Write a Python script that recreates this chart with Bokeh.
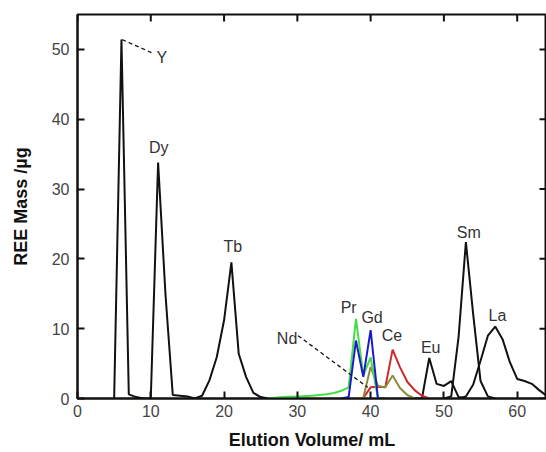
import math
from bokeh.plotting import figure
from bokeh.models import Range1d, FixedTicker, Label
from bokeh.embed import file_html
from bokeh.resources import INLINE

# ---- data ----
y_x = [5, 6, 7, 8, 9, 10]
y_y = [0, 51.4, 0.6, 0.2, 0, 0]
dy_x = [10, 11, 12, 13, 14, 15, 16]
dy_y = [0, 33.8, 15, 0.5, 0.4, 0.3, 0]
tb_x = [16, 17, 18, 19, 20, 21, 22, 23, 24, 25, 26]
tb_y = [0, 0.4, 2.6, 5.9, 11.2, 19.5, 6.4, 3.1, 0.8, 0.2, 0]
pr_x = [26, 28, 30, 32, 34, 35, 36, 37, 38, 39, 40, 41, 42]
pr_y = [0, 0.2, 0.3, 0.4, 0.6, 0.8, 1.1, 1.6, 11.4, 3.3, 5.9, 0, 0]
gd_x = [36, 37, 38, 39, 40, 41, 42]
gd_y = [0, 0.2, 8.3, 3.1, 9.8, 0, 0]
ce_x = [38, 39, 40, 41, 42, 43, 44, 45, 46, 47, 48]
ce_y = [0, 0.1, 1.6, 1.7, 1.6, 7.0, 4.5, 2.4, 1.2, 0.4, 0]
nd_x = [38, 39, 40, 41, 42, 43, 44, 45, 46]
nd_y = [0, 0.1, 4.5, 1.8, 1.6, 3.3, 1.5, 0.5, 0]
eu_x = [46, 47, 48, 49, 50, 51, 52, 53]
eu_y = [0, 0, 5.8, 2.1, 1.8, 2.5, 0.2, 0]
sm_x = [50, 51, 52, 53, 54, 55, 56, 57]
sm_y = [0, 0.3, 8.8, 22.4, 12, 2.5, 0.3, 0]
la_x = [52, 53, 54, 55, 56, 57, 58, 59, 60, 61, 62, 63, 64]
la_y = [0, 0.3, 2.0, 5.4, 9.0, 10.3, 8.5, 5.2, 2.8, 2.5, 2.1, 1.2, 0.4]

label_names = ["Y", "Dy", "Tb", "Pr", "Gd", "Ce", "Nd", "Eu", "Sm", "La"]
label_x = [11.5, 11.1, 21.2, 37.0, 40.2, 42.9, 28.6, 48.2, 53.4, 57.3]
label_y = [48.9, 36.0, 21.7, 13.1, 11.6, 9.0, 8.6, 7.3, 23.8, 11.9]

y_lead_x = [6.1, 10.4]
y_lead_y = [51.4, 49.4]
nd_lead_x = [30.1, 39.6]
nd_lead_y = [9.0, 1.6]

x_ticks = [0, 10, 20, 30, 40, 50, 60]
y_ticks = [0, 10, 20, 30, 40, 50]
X_MIN, X_MAX = 0, 64
Y_MIN, Y_MAX = 0, 55

FONT = "Liberation Sans"

p = figure(width=546, height=452, output_backend="svg", toolbar_location=None,
           x_range=Range1d(X_MIN, X_MAX), y_range=Range1d(Y_MIN, Y_MAX),
           min_border_left=77, min_border_right=0, min_border_top=14, min_border_bottom=54)
p.grid.visible = False
p.outline_line_color = "#111111"
p.outline_line_width = 2

for ax in (p.xaxis[0], p.yaxis[0]):
    ax.major_tick_in = 7
    ax.major_tick_out = 0
    ax.minor_tick_in = 0
    ax.minor_tick_out = 0
    ax.axis_line_width = 2
    ax.axis_line_color = "#111111"
    ax.major_tick_line_width = 2
    ax.major_tick_line_color = "#111111"
    ax.major_label_text_font = FONT
    ax.major_label_text_font_size = "16px"
    ax.major_label_text_color = "#444444"
    ax.axis_label_text_font = FONT
    ax.axis_label_text_font_size = "18px"
    ax.axis_label_text_font_style = "bold"
    ax.axis_label_text_color = "#111111"

p.xaxis[0].ticker = FixedTicker(ticks=x_ticks)
p.yaxis[0].ticker = FixedTicker(ticks=y_ticks)
p.xaxis[0].axis_label = "Elution Volume/ mL"
p.yaxis[0].axis_label = "REE Mass /µg"
p.xaxis[0].major_label_standoff = 6
p.xaxis[0].axis_label_standoff = 10
p.yaxis[0].major_label_standoff = 8
p.yaxis[0].axis_label_standoff = 18

# inward ticks on the top and right frame edges
p.ray(x=x_ticks, y=[Y_MAX] * len(x_ticks), length=7, length_units="screen",
      angle=-math.pi / 2, line_color="#111111", line_width=2)
p.ray(x=[X_MAX] * len(y_ticks), y=y_ticks, length=7, length_units="screen",
      angle=math.pi, line_color="#111111", line_width=2)

black = "#111111"
for xs, ys in [(y_x, y_y), (dy_x, dy_y), (tb_x, tb_y), (eu_x, eu_y), (sm_x, sm_y), (la_x, la_y)]:
    p.line(xs, ys, line_color=black, line_width=2)
p.line(ce_x, ce_y, line_color="#cc2a2a", line_width=2)
p.line(nd_x, nd_y, line_color="#8c8a3c", line_width=2)
p.line(pr_x, pr_y, line_color="#44dd44", line_width=2)
p.line(gd_x, gd_y, line_color="#1a1acc", line_width=2)

p.line(y_lead_x, y_lead_y, line_color=black, line_width=1.3, line_dash="4 3")
p.line(nd_lead_x, nd_lead_y, line_color=black, line_width=1.3, line_dash="4 3")

for name, lx, ly in zip(label_names, label_x, label_y):
    p.add_layout(Label(x=lx, y=ly, text=name, text_font=FONT, text_font_size="16px",
                       text_color="#333333", text_align="center", text_baseline="middle"))

open("out.html", "w").write(file_html(p, INLINE))
